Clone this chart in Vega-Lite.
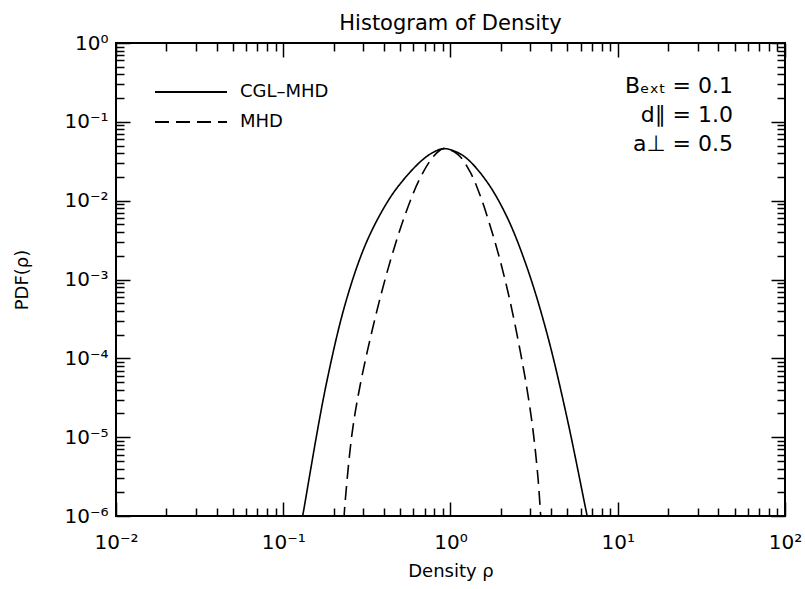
{
  "$schema": "https://vega.github.io/schema/vega-lite/v6.json",
  "width": 669,
  "height": 473,
  "autosize": {"type": "none"},
  "padding": {"left": 116, "top": 43, "right": 20, "bottom": 73},
  "background": "white",
  "title": {"text": "Histogram of Density", "fontSize": 21, "font": "DejaVu Sans", "fontWeight": "normal", "offset": -1, "anchor": "middle", "color": "black"},
  "config": {
    "view": {"stroke": "black", "strokeWidth": 2},
    "font": "DejaVu Sans",
    "axis": {"domain": false, "grid": false, "tickColor": "black", "tickWidth": 1.5, "labelColor": "black", "labelFont": "DejaVu Sans", "labelFontSize": 20, "titleFont": "DejaVu Sans", "titleFontSize": 18, "titleFontWeight": "normal", "titleColor": "black", "labelFlush": false, "labelOverlap": false}
  },
  "datasets": {
    "curves": [
      {"model": "CGL–MHD", "rho": 0.1271, "pdf": 7.2e-7},
      {"model": "CGL–MHD", "rho": 0.1318, "pdf": 1.11e-6},
      {"model": "CGL–MHD", "rho": 0.1802, "pdf": 4.55e-5},
      {"model": "CGL–MHD", "rho": 0.2372, "pdf": 5.29e-4},
      {"model": "CGL–MHD", "rho": 0.3125, "pdf": 2.88e-3},
      {"model": "CGL–MHD", "rho": 0.4114, "pdf": 8.99e-3},
      {"model": "CGL–MHD", "rho": 0.499, "pdf": 0.01627},
      {"model": "CGL–MHD", "rho": 0.657, "pdf": 0.0309},
      {"model": "CGL–MHD", "rho": 0.775, "pdf": 0.0402},
      {"model": "CGL–MHD", "rho": 0.906, "pdf": 0.0457},
      {"model": "CGL–MHD", "rho": 1.064, "pdf": 0.0422},
      {"model": "CGL–MHD", "rho": 1.25, "pdf": 0.0344},
      {"model": "CGL–MHD", "rho": 1.646, "pdf": 0.01755},
      {"model": "CGL–MHD", "rho": 2.168, "pdf": 6.32e-3},
      {"model": "CGL–MHD", "rho": 2.855, "pdf": 1.46e-3},
      {"model": "CGL–MHD", "rho": 3.76, "pdf": 2.13e-4},
      {"model": "CGL–MHD", "rho": 4.953, "pdf": 1.83e-5},
      {"model": "CGL–MHD", "rho": 6.52, "pdf": 1.07e-6},
      {"model": "CGL–MHD", "rho": 6.80, "pdf": 7e-7},
      {"model": "MHD", "rho": 0.2304, "pdf": 8.7e-7},
      {"model": "MHD", "rho": 0.2339, "pdf": 1.42e-6},
      {"model": "MHD", "rho": 0.2577, "pdf": 1.10e-5},
      {"model": "MHD", "rho": 0.2877, "pdf": 4.46e-5},
      {"model": "MHD", "rho": 0.3537, "pdf": 3.20e-4},
      {"model": "MHD", "rho": 0.4348, "pdf": 1.67e-3},
      {"model": "MHD", "rho": 0.5346, "pdf": 6.58e-3},
      {"model": "MHD", "rho": 0.657, "pdf": 0.0192},
      {"model": "MHD", "rho": 0.789, "pdf": 0.0361},
      {"model": "MHD", "rho": 0.906, "pdf": 0.0457},
      {"model": "MHD", "rho": 1.109, "pdf": 0.0385},
      {"model": "MHD", "rho": 1.308, "pdf": 0.0233},
      {"model": "MHD", "rho": 1.50, "pdf": 0.0118},
      {"model": "MHD", "rho": 1.72, "pdf": 4.91e-3},
      {"model": "MHD", "rho": 1.977, "pdf": 1.77e-3},
      {"model": "MHD", "rho": 2.269, "pdf": 5.33e-4},
      {"model": "MHD", "rho": 2.603, "pdf": 1.28e-4},
      {"model": "MHD", "rho": 2.867, "pdf": 4.08e-5},
      {"model": "MHD", "rho": 3.113, "pdf": 1.23e-5},
      {"model": "MHD", "rho": 3.336, "pdf": 3.03e-6},
      {"model": "MHD", "rho": 3.452, "pdf": 1.09e-6},
      {"model": "MHD", "rho": 3.49, "pdf": 7.7e-7}
    ],
    "notes": [
      {"note": "Bₑₓₜ = 0.1", "nx": 48.9, "ny": 0.2847},
      {"note": "d∥ = 1.0", "nx": 48.9, "ny": 0.1221},
      {"note": "a⊥ = 0.5", "nx": 48.9, "ny": 0.0523}
    ]
  },
  "layer": [
    {
      "data": {"name": "curves"},
      "mark": {"type": "line", "interpolate": "catmull-rom", "strokeWidth": 1.6, "color": "black", "clip": true},
      "encoding": {
        "x": {"field": "rho", "type": "quantitative", "scale": {"type": "log", "domain": [0.01, 100], "nice": false},
          "axis": {"orient": "bottom", "values": [0.01, 0.1, 1, 10, 100], "tickSize": -14, "labelPadding": 30, "labelExpr": "'10' + ['⁻⁶','⁻⁵','⁻⁴','⁻³','⁻²','⁻¹','⁰','¹','²'][round(log(datum.value)/LN10)+6]", "title": "Density ρ", "titlePadding": 10}},
        "y": {"field": "pdf", "type": "quantitative", "scale": {"type": "log", "domain": [1e-6, 1], "nice": false},
          "axis": {"orient": "left", "values": [1e-6, 1e-5, 1e-4, 1e-3, 1e-2, 1e-1, 1], "tickSize": -14, "labelPadding": 22, "labelExpr": "'10' + ['⁻⁶','⁻⁵','⁻⁴','⁻³','⁻²','⁻¹','⁰','¹','²'][round(log(datum.value)/LN10)+6]", "title": "PDF(ρ)", "titlePadding": 32}},
        "strokeDash": {"field": "model", "type": "nominal", "scale": {"domain": ["CGL–MHD", "MHD"], "range": [[1, 0], [14, 7]]},
          "legend": {"orient": "none", "legendX": 65, "legendY": 39, "title": null, "symbolType": "M-4,0H4", "symbolSize": 324, "symbolStrokeWidth": 2, "symbolStrokeColor": "black", "symbolFillColor": "transparent", "labelFontSize": 18, "labelFont": "DejaVu Sans", "labelColor": "black", "labelOffset": 39, "rowPadding": 11}}
      }
    },
    {
      "data": {"name": "curves"},
      "mark": {"type": "point", "opacity": 0},
      "encoding": {
        "x": {"field": "rho", "type": "quantitative", "axis": {"orient": "top", "values": [0.01, 0.1, 1, 10, 100], "tickSize": -14, "labels": false, "title": null}},
        "y": {"field": "pdf", "type": "quantitative", "axis": {"orient": "right", "values": [1e-6, 1e-5, 1e-4, 1e-3, 1e-2, 1e-1, 1], "tickSize": -14, "labels": false, "title": null}}
      }
    },
    {
      "data": {"name": "curves"},
      "mark": {"type": "point", "opacity": 0},
      "encoding": {
        "x": {"field": "rho", "type": "quantitative", "axis": {"orient": "bottom", "values": [0.02,0.03,0.04,0.05,0.06,0.07,0.08,0.09,0.2,0.3,0.4,0.5,0.6,0.7,0.8,0.9,2,3,4,5,6,7,8,9,20,30,40,50,60,70,80,90], "tickSize": -8, "labels": false, "title": null}},
        "y": {"field": "pdf", "type": "quantitative", "axis": {"orient": "left", "values": [2e-6,3e-6,4e-6,5e-6,6e-6,7e-6,8e-6,9e-6,2e-5,3e-5,4e-5,5e-5,6e-5,7e-5,8e-5,9e-5,2e-4,3e-4,4e-4,5e-4,6e-4,7e-4,8e-4,9e-4,2e-3,3e-3,4e-3,5e-3,6e-3,7e-3,8e-3,9e-3,0.02,0.03,0.04,0.05,0.06,0.07,0.08,0.09,0.2,0.3,0.4,0.5,0.6,0.7,0.8,0.9], "tickSize": -8, "labels": false, "title": null}}
      }
    },
    {
      "data": {"name": "curves"},
      "mark": {"type": "point", "opacity": 0},
      "encoding": {
        "x": {"field": "rho", "type": "quantitative", "axis": {"orient": "top", "values": [0.02,0.03,0.04,0.05,0.06,0.07,0.08,0.09,0.2,0.3,0.4,0.5,0.6,0.7,0.8,0.9,2,3,4,5,6,7,8,9,20,30,40,50,60,70,80,90], "tickSize": -8, "labels": false, "title": null}},
        "y": {"field": "pdf", "type": "quantitative", "axis": {"orient": "right", "values": [2e-6,3e-6,4e-6,5e-6,6e-6,7e-6,8e-6,9e-6,2e-5,3e-5,4e-5,5e-5,6e-5,7e-5,8e-5,9e-5,2e-4,3e-4,4e-4,5e-4,6e-4,7e-4,8e-4,9e-4,2e-3,3e-3,4e-3,5e-3,6e-3,7e-3,8e-3,9e-3,0.02,0.03,0.04,0.05,0.06,0.07,0.08,0.09,0.2,0.3,0.4,0.5,0.6,0.7,0.8,0.9], "tickSize": -8, "labels": false, "title": null}}
      }
    },
    {
      "data": {"name": "notes"},
      "mark": {"type": "text", "align": "right", "baseline": "middle", "fontSize": 22, "font": "DejaVu Sans", "color": "black"},
      "encoding": {
        "x": {"field": "nx", "type": "quantitative", "axis": null},
        "y": {"field": "ny", "type": "quantitative", "axis": null},
        "text": {"field": "note", "type": "nominal"}
      }
    }
  ],
  "resolve": {"axis": {"x": "independent", "y": "independent"}}
}
